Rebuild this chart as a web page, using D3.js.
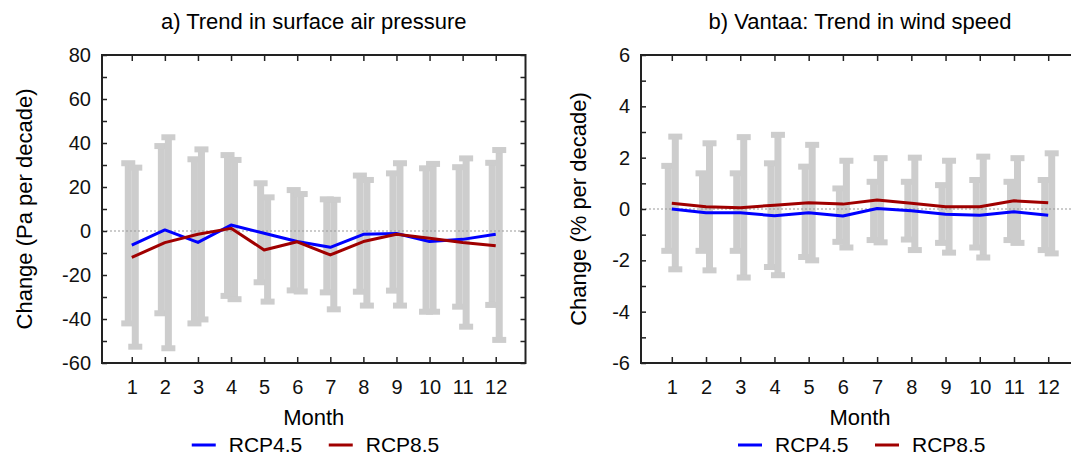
<!DOCTYPE html>
<html>
<head>
<meta charset="utf-8">
<script src="https://cdn.jsdelivr.net/npm/d3@7"></script>
<style>
  body { margin: 0; background: #fff; }
  svg { font-family: "Liberation Sans", Arial, sans-serif; }
</style>
</head>
<body>
<div id="chart"></div>
<script>
const width = 1071;
const height = 457;

const months = [1, 2, 3, 4, 5, 6, 7, 8, 9, 10, 11, 12];
const seriesNames = ['RCP4.5', 'RCP8.5'];
const seriesColors = ['#0000ff', '#a00000'];

// a) surface air pressure, Pa per decade
const pressRcp45 = [-6.4, 0.5, -5.2, 2.7, -1.0, -4.8, -7.4, -1.5, -1.1, -4.8, -3.8, -1.5];
const pressRcp85 = [-12.0, -5.3, -1.5, 1.2, -8.6, -4.9, -10.9, -4.8, -1.5, -3.3, -5.2, -6.7];
const pressLo45 = [-42, -37.4, -42, -29.5, -23.3, -27, -27.9, -27.6, -27.1, -36.7, -34.4, -33.6];
const pressHi45 = [30.8, 38.6, 32.6, 34.5, 21.7, 18.6, 14.4, 25.2, 26.2, 28.5, 29, 31];
const pressLo85 = [-52.6, -53.3, -40.2, -31, -32.1, -27.5, -35.6, -33.9, -33.9, -36.7, -43.5, -49.5];
const pressHi85 = [28.8, 42.6, 37.1, 32.3, 15.3, 16.8, 14.2, 23.2, 30.8, 30.5, 33, 36.8];

// b) Vantaa wind speed, % per decade
const windRcp45 = [0.0, -0.15, -0.15, -0.26, -0.15, -0.27, 0.02, -0.07, -0.2, -0.24, -0.11, -0.24];
const windRcp85 = [0.22, 0.09, 0.05, 0.15, 0.24, 0.19, 0.35, 0.22, 0.09, 0.09, 0.32, 0.24];
const windLo45 = [-1.63, -1.63, -1.63, -2.26, -1.87, -1.28, -1.21, -1.19, -1.32, -1.5, -1.21, -1.6];
const windHi45 = [1.68, 1.39, 1.39, 1.78, 1.65, 0.8, 1.06, 1.06, 0.93, 1.13, 1.06, 1.13];
const windLo85 = [-2.35, -2.39, -2.67, -2.58, -2.0, -1.5, -1.3, -1.6, -1.7, -1.89, -1.32, -1.73];
const windHi85 = [2.82, 2.56, 2.8, 2.89, 2.5, 1.88, 1.98, 2.0, 1.88, 2.04, 1.98, 2.17];

const pressTicks = d3.range(-60, 81, 10);
const windTicks = d3.range(-6, 7, 1);

const svg = d3.select('#chart')
  .append('svg')
    .attr('width', width)
    .attr('height', height);

drawPanel({
  left: 102, right: 525.5,
  title: 'a) Trend in surface air pressure',
  yTitle: 'Change (Pa per decade)',
  yTitleX: 24,
  yDomain: [-60, 80], yTicks: pressTicks, labelEvery: 20,
  lines: [pressRcp45, pressRcp85],
  bars: [[pressLo45, pressHi45], [pressLo85, pressHi85]]
});

drawPanel({
  left: 641, right: 1079,
  title: 'b) Vantaa: Trend in wind speed',
  yTitle: 'Change (% per decade)',
  yTitleX: 578,
  yDomain: [-6, 6], yTicks: windTicks, labelEvery: 2,
  lines: [windRcp45, windRcp85],
  bars: [[windLo45, windHi45], [windLo85, windHi85]]
});

function drawPanel(p) {
  const top = 55, bottom = 363;
  const x = d3.scaleLinear().domain([0.1, 12.9]).range([p.left, p.right]);
  const y = d3.scaleLinear().domain(p.yDomain).range([bottom, top]);
  const g = svg.append('g');

  // error bars (RCP4.5 left of the month, RCP8.5 right of it)
  const offsets = [-3.5, 3.5];
  p.bars.forEach(([lo, hi], s) => {
    const bg = g.append('g').attr('fill', '#cdcdcd');
    months.forEach((m, i) => {
      const cx = x(m) + offsets[s];
      bg.append('rect')
        .attr('x', cx - 3.5).attr('width', 7)
        .attr('y', y(hi[i])).attr('height', y(lo[i]) - y(hi[i]));
      [hi[i], lo[i]].forEach(v => {
        bg.append('rect')
          .attr('x', cx - 7).attr('width', 14)
          .attr('y', y(v) - 3).attr('height', 6);
      });
    });
  });

  // zero line
  g.append('line')
    .attr('x1', p.left).attr('x2', p.right)
    .attr('y1', y(0)).attr('y2', y(0))
    .attr('stroke', '#999').attr('stroke-width', 1)
    .attr('stroke-dasharray', '2,2');

  // trend lines
  const line = d3.line().x((d, i) => x(months[i])).y(d => y(d));
  p.lines.forEach((vals, s) => {
    g.append('path')
      .datum(vals)
      .attr('d', line)
      .attr('fill', 'none')
      .attr('stroke', seriesColors[s])
      .attr('stroke-width', 3)
      .attr('stroke-linejoin', 'round');
  });

  // axes, ticks pointing inward; plain hyphen for negatives like the original
  const fmt = d => (d % p.labelEvery === 0 ? String(d) : '');
  const axL = g.append('g').attr('transform', `translate(${p.left},0)`)
    .call(d3.axisLeft(y).tickValues(p.yTicks).tickSize(-5).tickPadding(11).tickFormat(fmt));
  const axR = g.append('g').attr('transform', `translate(${p.right},0)`)
    .call(d3.axisRight(y).tickValues(p.yTicks).tickSize(-5).tickFormat(''));
  const axB = g.append('g').attr('transform', `translate(0,${bottom})`)
    .call(d3.axisBottom(x).tickValues(months).tickSize(-6).tickPadding(17).tickFormat(String));
  const axT = g.append('g').attr('transform', `translate(0,${top})`)
    .call(d3.axisTop(x).tickValues(months).tickSize(-6).tickFormat(''));
  [axL, axR, axB, axT].forEach(a => {
    a.select('.domain').remove();
    a.selectAll('.tick line').attr('stroke', '#222').attr('stroke-width', 1.5);
    a.selectAll('text').attr('font-size', 20).attr('fill', '#111')
      .attr('font-family', '"Liberation Sans", Arial, sans-serif');
  });

  // frame
  g.append('rect')
    .attr('x', p.left).attr('y', top)
    .attr('width', p.right - p.left).attr('height', bottom - top)
    .attr('fill', 'none').attr('stroke', '#222').attr('stroke-width', 2);

  const cx = (p.left + p.right) / 2;
  g.append('text')
    .attr('x', cx).attr('y', 29)
    .attr('text-anchor', 'middle').attr('font-size', 22)
    .text(p.title);

  g.append('text')
    .attr('transform', `translate(${p.yTitleX},${(top + bottom) / 2}) rotate(-90)`)
    .attr('text-anchor', 'middle').attr('dy', '0.35em').attr('font-size', 22)
    .text(p.yTitle);

  g.append('text')
    .attr('x', cx).attr('y', 425)
    .attr('text-anchor', 'middle').attr('font-size', 22)
    .text('Month');

  // legend
  const lg = g.append('g').attr('transform', `translate(${cx - 122},445)`);
  seriesNames.forEach((name, s) => {
    const ox = s * 137;
    lg.append('line')
      .attr('x1', ox).attr('x2', ox + 24)
      .attr('stroke', seriesColors[s]).attr('stroke-width', 3);
    lg.append('text')
      .attr('x', ox + 37).attr('dy', '0.35em').attr('font-size', 21)
      .text(name);
  });
}
</script>
</body>
</html>
